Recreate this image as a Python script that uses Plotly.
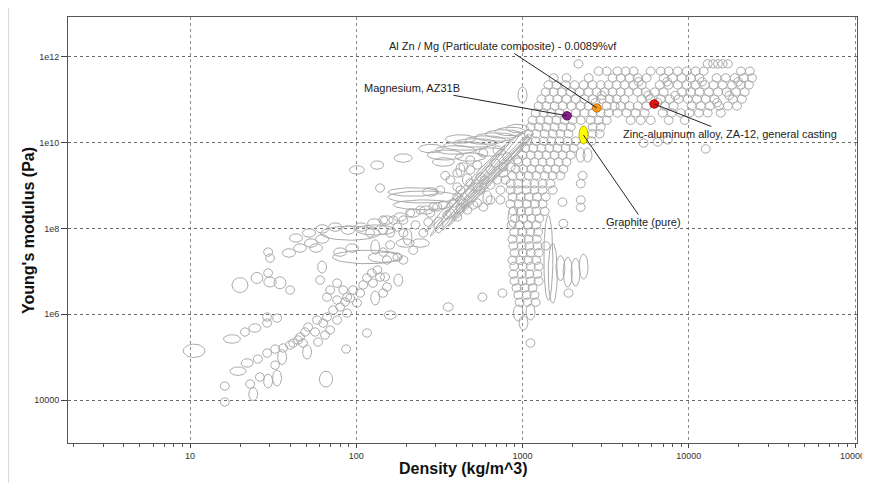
import numpy as np
import plotly.graph_objects as go

# ---------------- data (density in kg/m^3, Young's modulus in Pa) ----------------
# dense metal / ceramic / composite cloud: one modulus value per row, densities in that row
cluster_modulus = [6.8e11, 4.6e11, 3.2e11, 2.6e11, 2.2e11, 1.5e11, 1.25e11, 1.03e11, 8.5e10,
                   7.1e10, 4.9e10, 3.3e10,
                   2.3e10, 1.6e10, 1.08e10, 7.4e9, 5.1e9, 3.5e9, 2.4e9, 1.7e9, 1.1e9, 7.8e8,
                   5.4e8, 3.7e8, 2.5e8, 1.7e8, 1.2e8, 8.2e7, 5.6e7, 3.9e7, 2.7e7, 1.8e7,
                   1.3e7, 8.6e6, 5.9e6, 4.1e6, 2.8e6, 1.9e6]
cluster_density = [
    [2170, 13000, 14000, 15000, 16000, 17200],
    [2870, 3210, 3730, 4170, 4660, 5900, 6780, 7570, 8580, 9720, 11000, 12300, 20600, 23300],
    [1540, 1840, 2500, 3480, 3890, 4410, 4930, 5580, 7070, 8010, 9070, 10300, 11600,
     14700, 16700, 18900, 21400, 24000],
    [5000, 7400, 12000, 19800],
    [1430, 1600, 1820, 2060, 2330, 2640, 2950, 3290, 3680, 4110, 4660, 5210, 6690, 7570,
     8580, 9720, 11000, 12500, 14100, 16000, 18200, 20600, 23000],
    [1380, 1540, 1720, 1950, 2200, 2500, 2790, 3120, 3480, 3890, 4350, 4930, 5510, 6240, 7070,
     9070, 10300, 11600, 13200, 15000, 16900, 19200, 21700],
    [3000, 5700, 8300, 17500],
    [1300, 1450, 1620, 1840, 2090, 2360, 2640, 2990, 3340, 3680, 4110, 5210, 5900, 6780,
     7680, 8700, 9860, 11200, 12650, 14300, 18400, 20900],
    [2750, 6500, 14800],
    [1250, 1390, 1560, 1740, 1970, 2240, 2500, 3210, 3580, 3890, 4410, 4930, 5580, 7170, 8120,
     10400, 11800, 13400, 15200, 17200, 19500],
    [1200, 1340, 1490, 1670, 2090, 2360, 2640, 2950, 3290, 3730, 4230, 4790, 5430, 6970,
     7900, 8950, 10100, 11500, 13000, 15600],
    [1150, 1280, 1430, 1600, 1790, 2000, 2240, 2570, 2870, 3210, 4470, 5140, 5900, 7570, 9460],
    [1120, 1250, 1390, 1560, 1740, 1950, 2640, 2950],
    [1090, 1210, 1360, 1520, 1690, 1890, 2640, 2910],
    [1070, 1200, 1340, 1490, 1670, 1870, 2090, 2600],
    [1040, 1160, 1300, 1450, 1620, 1820, 2030],
    [1000, 1120, 1250, 1390, 1560, 1740, 1950],
    [944, 1060, 1180, 1320, 1470, 1650, 1840],
    [910, 1010, 1130, 1270, 1410, 1580, 1760],
    [870, 970, 1090, 1210, 1360, 1520, 1690, 2300],
    [850, 940, 1060, 1180, 1320, 1470, 2240],
    [850, 940, 1060, 1180, 1320, 1520],
    [870, 975, 1090, 1220, 1380],
    [845, 950, 1060, 1190, 1320],
    [880, 980, 1090, 1210, 1360],
    [900, 1010, 1130, 1260],
    [860, 960, 1080, 1210],
    [890, 1000, 1115, 1240],
    [870, 975, 1090, 1220],
    [880, 990, 1100, 1230, 1380],
    [895, 1005, 1120, 1250],
    [870, 970, 1085, 1210],
    [890, 1000, 1120, 1250],
    [880, 990, 1100, 1230],
    [895, 1000, 1120, 1250],
    [920, 1030, 1150],
    [944, 1060, 1180],
    [960, 1070, 1200],
]

# foams (single-valued records)
foam_density = [16.2, 16.2, 21.4, 29.1, 29.1, 33.4, 25.6, 29.1, 32.5, 36.3, 40.0, 23.0, 26.3,
                32.5, 29.5, 30.3, 29.5, 40.0]
foam_modulus = [2.12e4, 9.0e3, 3.84e5, 8.6e5, 6.2e5, 8.1e5, 9.0e4, 1.24e5, 1.54e5, 1.63e5,
                1.91e5, 2.36e4, 3.43e4, 6.5e4, 2.8e7, 2.03e7, 9.1e6, 3.66e6]

# elastomers / soft polymers
elastomer_density = [41.7, 44.6, 47.8, 45.9, 49.2, 51.3, 56.5, 58.1, 63.2, 66.7, 69.6, 76.7,
                     72.5, 80.0, 88.1, 85.7, 91.9, 101, 105.6, 95.8, 110, 116, 126, 124, 134,
                     139, 64.9, 58.9, 60.6, 69.6, 76.7, 83.4, 88.1, 76.7, 66.7, 116, 86.9]
elastomer_modulus = [2.13e5, 2.5e5, 2.13e5, 2.94e5, 3.84e5, 5.0e5, 3.84e5, 7.3e5, 6.2e5, 8.6e5,
                     4.28e5, 7.3e5, 1.25e6, 1.47e6, 1.06e6, 1.92e6, 2.38e6, 1.82e6, 3.1e6,
                     3.66e6, 4.8e6, 7.0e6, 5.3e6, 9.1e6, 1.07e7, 7.35e6, 3.27e5, 2.24e5, 6.25e6,
                     3.66e6, 5.3e6, 3.66e6, 2.5e6, 2.14e6, 2.5e6, 3.64e5, 1.54e5]

# polymers, woods, natural materials
polymer_density = [139, 145, 167, 192, 211, 243, 291, 333, 383, 441, 505, 160, 192, 253, 220,
                   192, 177, 153, 149, 153, 145, 405, 405, 485, 535, 706, 767, 846, 931, 641,
                   558, 485, 423, 307, 368, 279, 405, 466, 535, 581, 641, 177, 145, 121, 581,
                   706, 811, 485, 441, 405, 160, 145, 320, 368, 641, 736, 789, 687, 535, 343,
                   227, 271, 353, 423, 423, 558, 485, 736, 590, 767, 574, 757, 1117]
polymer_modulus = [8.7e8, 1.56e8, 1.56e8, 1.56e8, 2.28e8, 2.67e8, 3.14e8, 3.5e8, 3.9e8, 3.9e8,
                   3.5e8, 7.8e7, 7.8e7, 7.8e7, 3.1e7, 1.83e7, 2.14e7, 1.83e7, 7.35e6, 4.3e6,
                   3.1e6, 9.2e8, 5.4e8, 6.65e8, 9.2e8, 1.34e9, 1.95e9, 2.7e9, 3.92e9, 2.3e9,
                   1.57e9, 1.14e9, 4.6e8, 3.14e8, 2.28e8, 2.28e8, 1.84e8, 2.67e8, 3.9e8, 3.14e8,
                   4.6e8, 1.07e8, 9.1e7, 7.8e7, 5.7e9, 6.7e9, 4.6e9, 3.92e9, 2.7e9, 1.95e9,
                   4.1e7, 2.8e7, 7.8e8, 1.34e9, 1.02e9, 7.8e8, 1.34e9, 3.33e9, 3.0e9, 1.7e9,
                   1.2e8, 1.4e8, 2.05e8, 2.97e8, 7.8e8, 7.8e8, 2.3e9, 4.6e8, 1.34e9, 2.7e9,
                   2.5e6, 3.1e6, 2.13e5]

# scattered metals / ceramics
metal_density = [1740, 2240, 2240, 1760, 1890, 5350, 6500, 7470, 12650]
metal_modulus = [4.1e8, 4.6e8, 3.1e8, 1.3e8, 3.1e6, 9.7e9, 1.03e10, 1.15e10, 7.1e9]

# records with a density range and a modulus range
range_density_lo = [299, 333, 383, 453, 520, 598, 687, 267, 394, 520, 237, 287, 800, 343,
                    91, 122, 169,
                    155, 155, 250, 167, 72, 118, 61, 99,
                    17.9, 23.3, 27.8, 32.0, 9.1,
                    35.8, 24.0, 29.5, 33.4, 50.6, 130, 62.3, 60,
                    880, 1117, 1013,
                    615, 203, 179, 312, 423, 435, 130,
                    1430, 1520, 1693, 1870, 2085, 2330,
                    2235, 2460, 870, 1000]
range_density_hi = [520, 615, 706, 789, 906, 986, 1042, 441, 598, 789, 333, 389, 1086, 520,
                    112, 146, 217,
                    411, 312, 312, 383, 189, 179, 139, 172,
                    22.3, 27.4, 33.0, 37.8, 12.3,
                    35.8, 24.0, 29.5, 33.4, 50.6, 130, 62.3, 72,
                    1010, 1117, 1013,
                    615, 203, 179, 312, 423, 499, 130,
                    1430, 1520, 1693, 1870, 2085, 2330,
                    2235, 2460, 870, 1000]
range_modulus_lo = [5.4e9, 6.7e9, 7.9e9, 9.2e9, 1.08e10, 1.27e10, 1.5e10, 3.92e9, 3.7e9, 4.85e9,
                    6.0e9, 2.84e9, 1.76e10, 1.03e10,
                    1.85e9, 2.4e9, 3.5e9,
                    3.9e8, 5.7e8, 6.0e8, 2.7e8, 1.5e7, 1.6e7, 5.3e7, 7.0e7,
                    3.2e6, 5.2e6, 4.3e6, 3.9e6, 9.8e4,
                    6.7e4, 9.7e3, 1.9e4, 2.12e4, 9.0e4, 1.64e6, 9.1e6, 2.0e4,
                    6.9e5, 7.3e5, 4.3e5,
                    3.5e8, 4.1e7, 4.5e6, 7.8e7, 1.57e9, 9.7e8, 2.5e7,
                    2.1e6, 1.8e6, 6.1e6, 4.3e6, 4.5e6, 6.6e6,
                    3.5e9, 3.5e9, 1.07e8, 8.3e10]
range_modulus_hi = [8.3e9, 1.03e10, 1.21e10, 1.42e10, 1.67e10, 1.96e10, 2.18e10, 6.7e9, 5.7e9,
                    7.45e9, 8.75e9, 4.36e9, 2.56e10, 1.42e10,
                    2.84e9, 3.7e9, 5.4e9,
                    7.4e8, 8.7e8, 8.3e8, 4.6e8, 3.1e7, 2.8e7, 1.13e8, 1.2e8,
                    7.1e6, 9.4e6, 7.4e6, 7.4e6, 2.0e5,
                    1.5e5, 1.95e4, 4.0e4, 5.0e4, 1.91e5, 3.47e6, 1.73e7, 4.7e4,
                    1.64e6, 1.73e6, 9.1e5,
                    7.5e8, 9.7e7, 8.6e6, 1.84e8, 3.33e9, 1.85e9, 5.4e7,
                    2.0e8, 4.5e7, 2.3e7, 2.1e7, 2.0e7, 2.5e7,
                    7.45e9, 7.45e9, 3.14e8, 1.97e11]

# records with a density range and a single modulus
flat_density_lo = [36.0, 42.0, 48.8, 57.0, 39.7, 47.5, 57.0, 68.2, 81.6, 97.8, 117, 140, 168,
                   201, 241, 73, 86.4, 52.4, 15.9, 22.6, 17.4, 20.3, 147, 333, 174, 214]
flat_density_hi = [43.1, 50.2, 58.4, 68.2, 47.5, 56.9, 68.2, 81.6, 97.7, 117, 140, 167, 201,
                   241, 289, 87.5, 103, 62.7, 20.1, 26.7, 21.7, 24.0, 174, 383, 223, 275]
flat_modulus = [2.67e7, 3.48e7, 4.55e7, 5.65e7, 5.96e7, 7.8e7, 9.7e7, 1.07e8, 9.1e7, 1.07e8,
                1.33e8, 1.56e8, 1.84e8, 2.28e8, 2.67e8, 2.8e7, 3.48e7, 3.48e7, 2.64e5, 4.76e5,
                4.7e4, 7.3e4, 9.55e5, 1.47e6, 4.55e7, 4.55e7]

# correlated records (tilted envelopes): start and end of the major axis
corr_density_start = [329, 357, 303, 378, 279, 394, 260]
corr_modulus_start = [9.1e7, 1.13e8, 1.02e8, 1.56e8, 6.6e7, 2.16e8, 8.2e7]
corr_density_end = [1086, 1117, 972, 1042, 846, 1148, 789]
corr_modulus_end = [1.58e10, 1.27e10, 1.67e10, 1.03e10, 1.15e10, 1.58e10, 8.75e9]

# highlighted materials
highlight_names = ["Magnesium, AZ31B",
                   "Al Zn / Mg (Particulate composite) - 0.0089%vf",
                   "Zinc-aluminum alloy, ZA-12, general casting",
                   "Graphite (pure)"]
highlight_density_lo = [1850, 2800, 6200, 2200]
highlight_density_hi = [1850, 2800, 6200, 2460]
highlight_modulus_lo = [4.2e10, 6.4e10, 7.9e10, 9.2e9]
highlight_modulus_hi = [4.2e10, 6.4e10, 7.9e10, 2.43e10]

x_tick_values = [10, 100, 1000, 10000, 100000]
y_tick_values = [1e4, 1e6, 1e8, 1e10, 1e12]
y_tick_labels = ["10000", "1e6", "1e8", "1e10", "1e12"]

# ---------------- styles / layout ----------------
HIGHLIGHT_FILL = ["#8B1A8B", "#F39A1E", "#E3120B", "#FFFF00"]
HIGHLIGHT_EDGE = ["#5A0A5A", "#C0700A", "#A00000", "#B5B500"]
LABEL_OFFSETS = [(-155, -28), (-94, -62), (76, 30), (60, 87)]

# the page body adds an 8 px offset, so the figure is 862 x 475
W, H = 862, 475
M_L, M_R, M_T, M_B = 60, 13, 9, 40
X_RANGE = [0.266, 5.012]
Y_RANGE = [2.998, 12.925]
PX_X = (W - M_L - M_R) / (X_RANGE[1] - X_RANGE[0])
PX_Y = (H - M_T - M_B) / (Y_RANGE[1] - Y_RANGE[0])
MIN_HALF_X = 4.5 / PX_X      # smallest drawn envelope (in decades)
MIN_HALF_Y = 4.25 / PX_Y
T = np.linspace(0, 2 * np.pi, 41)
FONT = "Liberation Sans, Arial, sans-serif"


def ellipse(rlo, rhi, elo, ehi):
    x0, x1 = np.log10(rlo), np.log10(rhi)
    y0, y1 = np.log10(elo), np.log10(ehi)
    cx, cy = (x0 + x1) / 2, (y0 + y1) / 2
    a = max((x1 - x0) / 2, MIN_HALF_X)
    b = max((y1 - y0) / 2, MIN_HALF_Y)
    return 10 ** (cx + a * np.cos(T)), 10 ** (cy + b * np.sin(T))


def tilted(r1, e1, r2, e2, half_minor_px=2.5):
    p1 = np.array([np.log10(r1) * PX_X, np.log10(e1) * PX_Y])
    p2 = np.array([np.log10(r2) * PX_X, np.log10(e2) * PX_Y])
    c = (p1 + p2) / 2
    d = p2 - p1
    half = np.linalg.norm(d) / 2
    u = d / np.linalg.norm(d)
    n = np.array([-u[1], u[0]])
    px = c[0] + half * np.cos(T) * u[0] + half_minor_px * np.sin(T) * n[0]
    py = c[1] + half * np.cos(T) * u[1] + half_minor_px * np.sin(T) * n[1]
    return 10 ** (px / PX_X), 10 ** (py / PX_Y)


xs, ys = [], []


def add(shape):
    ex, ey = shape
    xs.extend(ex.tolist() + [None])
    ys.extend(ey.tolist() + [None])


for e, row in zip(cluster_modulus, cluster_density):
    for r in row:
        add(ellipse(r, r, e, e))
for dens, mods in [(foam_density, foam_modulus), (elastomer_density, elastomer_modulus),
                   (polymer_density, polymer_modulus), (metal_density, metal_modulus)]:
    for r, e in zip(dens, mods):
        add(ellipse(r, r, e, e))
for rlo, rhi, elo, ehi in zip(range_density_lo, range_density_hi, range_modulus_lo, range_modulus_hi):
    add(ellipse(rlo, rhi, elo, ehi))
for rlo, rhi, e in zip(flat_density_lo, flat_density_hi, flat_modulus):
    add(ellipse(rlo, rhi, e, e))
for r1, e1, r2, e2 in zip(corr_density_start, corr_modulus_start, corr_density_end, corr_modulus_end):
    add(tilted(r1, e1, r2, e2))

fig = go.Figure()
fig.add_trace(go.Scatter(x=xs, y=ys, mode="lines", line=dict(color="#aaaaaa", width=1),
                         hoverinfo="skip", showlegend=False))

annotations = []
for i, name in enumerate(highlight_names):
    ex, ey = ellipse(highlight_density_lo[i], highlight_density_hi[i],
                     highlight_modulus_lo[i], highlight_modulus_hi[i])
    fig.add_trace(go.Scatter(x=ex, y=ey, mode="lines", fill="toself",
                             fillcolor=HIGHLIGHT_FILL[i],
                             line=dict(color=HIGHLIGHT_EDGE[i], width=1),
                             hoverinfo="skip", showlegend=False))
    cx = (np.log10(highlight_density_lo[i]) + np.log10(highlight_density_hi[i])) / 2
    cy = (np.log10(highlight_modulus_lo[i]) + np.log10(highlight_modulus_hi[i])) / 2
    annotations.append(dict(x=cx, y=cy, xref="x", yref="y", text=name,
                            ax=LABEL_OFFSETS[i][0], ay=LABEL_OFFSETS[i][1],
                            showarrow=True, arrowhead=0, arrowwidth=1, arrowcolor="#222",
                            standoff=0, font=dict(family=FONT, size=11, color="#222")))

annotations.append(dict(text="<b>Density (kg/m^3)</b>", xref="paper", yref="paper",
                        x=0.5, y=-0.0587, xanchor="center", yanchor="middle", showarrow=False,
                        font=dict(family=FONT, size=16, color="#111")))
annotations.append(dict(text="<b>Young's modulus (Pa)</b>", xref="paper", yref="paper",
                        x=-0.0507, y=0.5, xanchor="center", yanchor="middle", textangle=-90,
                        showarrow=False, font=dict(family=FONT, size=16, color="#111")))

fig.update_layout(
    width=W, height=H,
    margin=dict(l=M_L, r=M_R, t=M_T, b=M_B),
    paper_bgcolor="white", plot_bgcolor="white",
    showlegend=False,
    font=dict(family=FONT, size=9, color="#333"),
    annotations=annotations,
    shapes=[dict(type="line", xref="paper", yref="paper", x0=-0.076, x1=-0.076,
                 y0=-0.1, y1=1.05, line=dict(color="#d9d9d9", width=2))],
    xaxis=dict(type="log", range=X_RANGE, tickmode="array", tickvals=x_tick_values,
               ticktext=[str(v) for v in x_tick_values], ticks="outside", ticklen=4,
               tickcolor="#444", tickfont=dict(family=FONT, size=9, color="#333"),
               ticklabeloverflow="allow", automargin=False,
               showline=True, linecolor="#555", linewidth=1, mirror=True,
               showgrid=True, gridcolor="#8a8a8a", griddash="dot", gridwidth=1,
               zeroline=False,
               minor=dict(ticks="outside", ticklen=3, tickcolor="#555", dtick="D1",
                          showgrid=False)),
    yaxis=dict(type="log", range=Y_RANGE, tickmode="array", tickvals=y_tick_values,
               ticktext=y_tick_labels, ticks="outside", ticklen=6, tickcolor="#444",
               tickfont=dict(family=FONT, size=9, color="#333"), automargin=False,
               showline=True, linecolor="#555", linewidth=1, mirror=True,
               showgrid=True, gridcolor="#6a6a6a", griddash="dot", gridwidth=1,
               zeroline=False),
)

fig.write_html("out.html")
